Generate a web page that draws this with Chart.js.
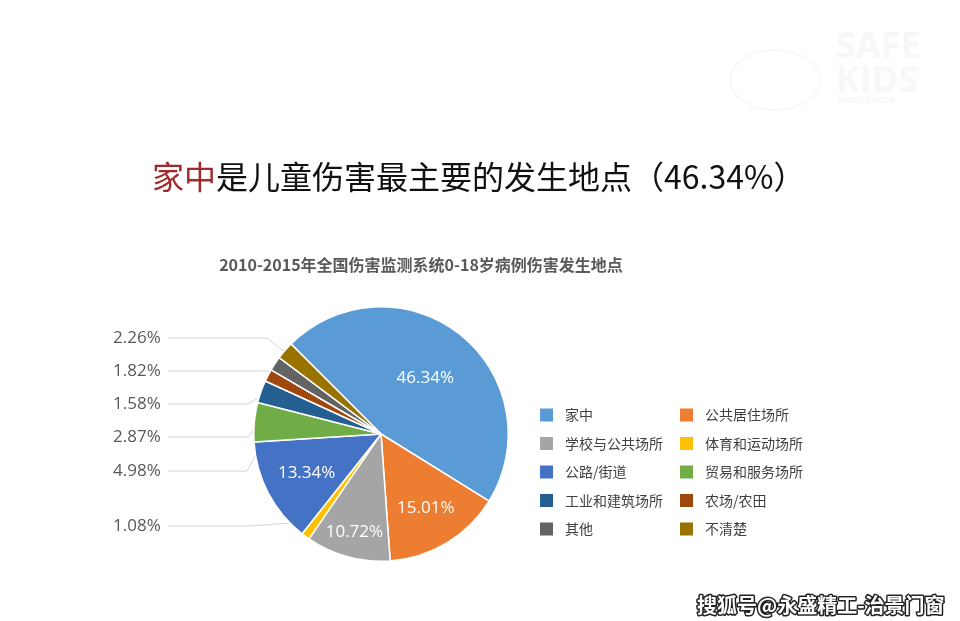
<!DOCTYPE html>
<html lang="zh">
  <head>
    <meta charset="UTF-8" />
    <title>伤害发生地点</title>
    <script src="https://cdn.jsdelivr.net/npm/chart.js"></script>
    <style>
      body { margin: 0; background: #ffffff; }
      #wrap { width: 960px; height: 621px; position: relative; }
    </style>
  </head>
  <body>
    <div id="wrap">
      <canvas id="myChart" width="960" height="621"></canvas>
    </div>

    <script>
      // data
      const categories = ["家中", "公共居住场所", "学校与公共场所", "体育和运动场所", "公路/街道",
        "贸易和服务场所", "工业和建筑场所", "农场/农田", "其他", "不清楚"];
      const shares = [46.34, 15.01, 10.72, 1.08, 13.34, 4.98, 2.87, 1.58, 1.82, 2.26];
      const sliceColors = ["#5b9bd5", "#ed7d31", "#a5a5a5", "#ffc000", "#4472c4",
        "#70ad47", "#255e91", "#9e480e", "#636363", "#997300"];

      const CJK = '"Noto Sans CJK SC", "Noto Sans", sans-serif';
      const NUM = '"Open Sans", "Noto Sans", sans-serif';

      // slices whose value sits inside the pie, and how far out (fraction of radius)
      const insideLabels = [
        { index: 0, at: 0.56 },
        { index: 1, at: 0.68 },
        { index: 2, at: 0.8 },
        { index: 4, at: 0.66 },
      ];
      // slices labelled on the left with a leader line
      const outsideLabels = [
        { index: 9, y: 338, elbow: 267 },
        { index: 8, y: 371, elbow: 267 },
        { index: 7, y: 404, elbow: 247 },
        { index: 6, y: 437, elbow: 248 },
        { index: 5, y: 471, elbow: 247 },
        { index: 3, y: 526, elbow: 250 },
      ];

      const fmt = (v) => v.toFixed(2) + "%";

      function slicePoint(arc, frac) {
        const mid = (arc.startAngle + arc.endAngle) / 2;
        const r = arc.outerRadius * frac;
        return { x: arc.x + Math.cos(mid) * r, y: arc.y + Math.sin(mid) * r };
      }

      const decorPlugin = {
        id: "decor",
        beforeDraw(chart) {
          const { ctx } = chart;
          ctx.save();
          ctx.fillStyle = "#ffffff";
          ctx.fillRect(0, 0, chart.width, chart.height);

          // very faint logo in the corner
          ctx.fillStyle = "#f7f7f7";
          ctx.font = "bold 36px " + NUM;
          ctx.textBaseline = "alphabetic";
          ctx.fillText("SAFE", 836, 58);
          ctx.fillText("KIDS", 836, 92);
          ctx.font = "bold 9px " + NUM;
          ctx.fillText("WORLDWIDE", 838, 103);
          ctx.strokeStyle = "#f8f8f8";
          ctx.lineWidth = 2;
          ctx.beginPath();
          ctx.ellipse(775, 80, 45, 30, 0, 0, Math.PI * 2);
          ctx.stroke();

          // headline
          ctx.textBaseline = "middle";
          ctx.font = "32px " + CJK;
          let x = 152;
          ctx.fillStyle = "#9e2a2b";
          ctx.fillText("家中", x, 177);
          x += ctx.measureText("家中").width;
          ctx.fillStyle = "#111111";
          ctx.fillText("是儿童伤害最主要的发生地点（46.34%）", x, 177);

          // chart title
          ctx.textAlign = "center";
          ctx.font = "bold 16px " + CJK;
          ctx.fillStyle = "#595959";
          ctx.fillText("2010-2015年全国伤害监测系统0-18岁病例伤害发生地点", 421, 265);
          ctx.restore();
        },
        beforeDatasetsDraw(chart) {
          const { ctx } = chart;
          const arcs = chart.getDatasetMeta(0).data;
          ctx.save();
          ctx.strokeStyle = "#d4d4d4";
          ctx.lineWidth = 1;
          outsideLabels.forEach((o) => {
            const p = slicePoint(arcs[o.index], 0.85);
            ctx.beginPath();
            ctx.moveTo(168, o.y);
            ctx.lineTo(o.elbow, o.y);
            ctx.lineTo(p.x, p.y);
            ctx.stroke();
          });
          ctx.restore();
        },
        afterDatasetsDraw(chart) {
          const { ctx } = chart;
          const arcs = chart.getDatasetMeta(0).data;
          const values = chart.data.datasets[0].data;
          ctx.save();
          ctx.textBaseline = "middle";

          // values inside the pie
          ctx.textAlign = "center";
          ctx.font = "17px " + NUM;
          ctx.fillStyle = "#ffffff";
          insideLabels.forEach((l) => {
            const p = slicePoint(arcs[l.index], l.at);
            ctx.fillText(fmt(values[l.index]), p.x, p.y);
          });

          // values on the left
          ctx.textAlign = "left";
          ctx.fillStyle = "#595959";
          outsideLabels.forEach((o) => {
            ctx.fillText(fmt(values[o.index]), 113, o.y);
          });

          // legend in two columns
          ctx.font = "14px " + CJK;
          chart.data.labels.forEach((name, i) => {
            const col = i % 2;
            const row = Math.floor(i / 2);
            const lx = col === 0 ? 540 : 680;
            const ly = 415 + row * 28.5;
            ctx.fillStyle = sliceColors[i];
            ctx.fillRect(lx, ly - 6.5, 13, 13);
            ctx.fillStyle = "#404040";
            ctx.fillText(name, lx + 25, ly);
          });

          // watermark
          ctx.font = "bold 20px " + CJK;
          ctx.lineJoin = "round";
          ctx.lineWidth = 3;
          ctx.strokeStyle = "#222222";
          ctx.strokeText("搜狐号@永盛精工-治景门窗", 697, 605);
          ctx.fillStyle = "#ffffff";
          ctx.fillText("搜狐号@永盛精工-治景门窗", 697, 605);
          ctx.restore();
        },
      };

      new Chart(document.getElementById("myChart"), {
        type: "pie",
        data: {
          labels: categories,
          datasets: [
            {
              data: shares,
              backgroundColor: sliceColors,
              borderColor: "#ffffff",
              borderWidth: 1.5,
            },
          ],
        },
        options: {
          responsive: false,
          animation: false,
          rotation: -45,
          layout: { padding: { left: 253, right: 451, top: 306, bottom: 59 } },
          plugins: {
            legend: { display: false },
            tooltip: { enabled: false },
          },
        },
        plugins: [decorPlugin],
      });
    </script>
  </body>
</html>
